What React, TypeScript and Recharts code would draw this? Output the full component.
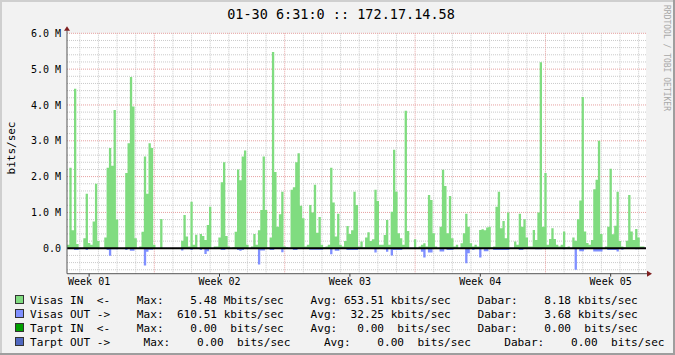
import React from 'react';
import { ComposedChart, Area, XAxis, YAxis, CartesianGrid, ReferenceLine, ReferenceDot } from 'recharts';

// ---- data (Mbits/sec), one sample every 3 hours from the left edge of the graph ----
const STEP_HOURS = 3;

const visasInA = [
  0.1, 2.25, 0.5, 4.45, 0.12, 0, 0, 0.28, 1.52, 0.15,
  0.1, 0.75, 1.8, 0.2, 0, 0, 0.3, 2.25, 2.8, 2.3,
  3.86, 0.8, 0, 0, 0, 2.1, 2.93, 4.78, 3.96, 0.28,
  0, 0.05, 0.46, 2.56, 1.52, 2.93, 2.8, 0.1, 0, 0,
  0.82, 0, 0, 0, 0, 0, 0, 0, 0, 0.21,
];
const visasInB = [
  0.93, 0.33, 0.05, 1.3, 0.1, 0.38, 0, 0.4, 0.34, 0.23,
  0.65, 1.16, 0, 0.05, 0.05, 0.3, 1.84, 2.4, 0.34, 0.05,
  0, 0.03, 0.46, 2.2, 1.9, 2.56, 2.73, 0.1, 0, 0.05,
  0.4, 0.1, 0.5, 1.07, 2.56, 1.07, 0.02, 0.3, 5.48, 2.13,
  0.6, 0.95, 1.58, 0.05, 0.03, 0, 1.63, 1.7, 2.4, 2.65,
];
const visasInC = [
  1.19, 0.84, 0.05, 0.1, 1.21, 1.0, 1.77, 0.43, 0.87, 0.1,
  0.03, 0.05, 0.1, 2.25, 1.28, 0.33, 0.96, 0.1, 0.05, 0.2,
  0.62, 0.4, 0.5, 1.58, 1.21, 0.05, 0.19, 0.02, 0.3, 0.45,
  0.2, 0.25, 1.63, 1.32, 0.1, 0.1, 0.37, 0.79, 0.1, 1.02,
  2.75, 1.58, 0.42, 0.28, 0.1, 3.84, 0.48, 0, 0, 0.25,
];
const visasInD = [
  0, 0.05, 0.1, 0.14, 0.05, 1.49, 1.35, 0.42, 0.05, 0,
  0.6, 2.19, 1.74, 0.42, 1.46, 0.28, 0.05, 0.1, 0, 0.14,
  0.42, 0.96, 0.6, 0.14, 0.05, 0.1, 0.05, 0.51, 0.53, 0.5,
  0.58, 0.6, 0.02, 0.05, 1.16, 1.58, 0.56, 0.76, 0.28, 1.0,
  0, 0, 0.19, 0.1, 0.96, 0.6, 0.81, 0.3, 0.05, 0.05,
];
const visasInE = [
  0.51, 0.23, 1.0, 5.19, 0.6, 2.1, 0.1, 0.26, 0.56, 0.26,
  0.1, 0.05, 0.1, 0.47, 0.03, 0.05, 0, 0.3, 0.21, 0.81,
  1.33, 4.22, 0.47, 0.15, 0.1, 0.23, 1.65, 1.91, 3.0, 0.4,
  0, 0.05, 0.6, 2.22, 0.39, 0.63, 1.58, 0.2, 0.05, 0.03,
  0.21, 1.49, 0.47, 0.23, 0.54, 0.3, 0.05, 0.05,
];

const visasOutA = [
  0, 0, 0, 0.05, 0.05, 0, 0, 0, 0.05, 0,
  0, 0, 0, 0, 0, 0, 0, 0.05, 0.21, 0.03,
  0.03, 0.03, 0, 0, 0, 0.05, 0, 0.07, 0.07, 0,
  0, 0, 0, 0.48, 0.1, 0.04, 0.04, 0, 0, 0,
  0, 0, 0, 0, 0, 0, 0, 0, 0, 0.06,
];
const visasOutB = [
  0, 0, 0, 0.05, 0, 0, 0, 0.05, 0, 0.16,
  0.08, 0, 0, 0, 0, 0, 0.05, 0.05, 0, 0,
  0, 0, 0, 0.05, 0.07, 0.05, 0, 0, 0, 0,
  0, 0, 0.45, 0.06, 0.06, 0, 0, 0.05, 0.05, 0,
  0, 0, 0.11, 0, 0, 0, 0, 0.05, 0.05, 0,
];
const visasOutC = [
  0, 0, 0, 0, 0.04, 0.04, 0.04, 0.04, 0.04, 0.04,
  0, 0, 0, 0.17, 0, 0.07, 0.07, 0, 0, 0,
  0.05, 0.05, 0.05, 0.05, 0.05, 0, 0, 0, 0, 0,
  0, 0, 0.12, 0, 0, 0, 0.03, 0.1, 0, 0.2,
  0.05, 0.05, 0.05, 0.05, 0, 0, 0, 0, 0, 0,
];
const visasOutD = [
  0, 0, 0.1, 0.26, 0, 0.12, 0.12, 0, 0, 0,
  0.09, 0.09, 0, 0.05, 0.05, 0.05, 0, 0, 0, 0,
  0, 0.42, 0.14, 0, 0.05, 0, 0, 0.26, 0, 0.08,
  0.08, 0, 0, 0.05, 0.05, 0.05, 0.05, 0.05, 0.05, 0.05,
  0, 0, 0, 0, 0.05, 0.05, 0, 0, 0, 0,
];
const visasOutE = [
  0, 0.03, 0.03, 0.03, 0, 0, 0, 0, 0, 0,
  0, 0, 0, 0.03, 0, 0, 0, 0, 0.6, 0,
  0.08, 0.08, 0.03, 0, 0, 0, 0.09, 0.09, 0.09, 0.09,
  0, 0, 0.05, 0.05, 0.05, 0.05, 0.09, 0, 0.04, 0,
  0, 0, 0, 0, 0.03, 0, 0, 0,
];

// ---- axes (hours from the left edge) ----
const X_MAX = 746;
const Y_MIN = -0.71;
const Y_MAX = 6.0;
const yTicks = [0, 1, 2, 3, 4, 5, 6];
const yMajorGrid = [1, 2, 3, 4, 5, 6];
const yMinorGrid = [
  -0.6, -0.4, -0.2, 0.2, 0.4, 0.6, 0.8, 1.2, 1.4, 1.6, 1.8, 2.2, 2.4, 2.6, 2.8,
  3.2, 3.4, 3.6, 3.8, 4.2, 4.4, 4.6, 4.8, 5.2, 5.4, 5.6, 5.8,
];
const weekGrid = [112.5, 280.5, 448.5, 616.5];
const dayGrid = [
  16.5, 40.5, 64.5, 88.5, 136.5, 160.5, 184.5, 208.5, 232.5, 256.5, 304.5, 328.5,
  352.5, 376.5, 400.5, 424.5, 472.5, 496.5, 520.5, 544.5, 568.5, 592.5, 640.5,
  664.5, 688.5, 712.5, 736.5,
];
const weekLabelHours = [28.5, 196.5, 364.5, 532.5, 700.5];
const weekLabels = ['Week 01', 'Week 02', 'Week 03', 'Week 04', 'Week 05'];

// ---- texts ----
const title = '01-30 6:31:0 :: 172.17.14.58';
const yTitle = 'bits/sec';
const credit = 'RRDTOOL / TOBI OETIKER';
const legendLines = [
  'Visas IN  <-    Max:    5.48 Mbits/sec    Avg: 653.51 kbits/sec    Dabar:    8.18 kbits/sec',
  'Visas OUT ->    Max:  610.51 kbits/sec    Avg:  32.25 kbits/sec    Dabar:    3.68 kbits/sec',
  'Tarpt IN  <-    Max:    0.00  bits/sec    Avg:   0.00  bits/sec    Dabar:    0.00  bits/sec',
  'Tarpt OUT ->     Max:    0.00  bits/sec     Avg:    0.00  bits/sec     Dabar:    0.00  bits/sec',
];
const legendColors = ['#80DC80', '#8090FF', '#00A000', '#5068C0'];

const IN_COLOR = '#80DC80';
const OUT_COLOR = '#8090FF';
const BG = '#F2F2F2';
const MONO = "'DejaVu Sans Mono', monospace";

const visasIn = [...visasInA, ...visasInB, ...visasInC, ...visasInD, ...visasInE];
const visasOut = [...visasOutA, ...visasOutB, ...visasOutC, ...visasOutD, ...visasOutE];
const table = visasIn.map((v, i) => ({ t: i * STEP_HOURS, vin: v, vout: -visasOut[i] }));
table.push({
  t: visasIn.length * STEP_HOURS,
  vin: visasIn[visasIn.length - 1],
  vout: -visasOut[visasOut.length - 1],
});

const W = 675;
const H = 355;

const upArrow = (p: any) => (
  <g>
    <line x1={p.cx} y1={p.cy} x2={p.cx} y2={p.cy - 3} stroke="#555" strokeWidth={1} />
    <path d={`M${p.cx - 3},${p.cy - 2.5} L${p.cx + 3},${p.cy - 2.5} L${p.cx},${p.cy - 7} Z`} fill="#7F1F1F" />
  </g>
);
const rightArrow = (p: any) => (
  <g>
    <line x1={p.cx} y1={p.cy} x2={p.cx + 2} y2={p.cy} stroke="#555" strokeWidth={1} />
    <path d={`M${p.cx + 1},${p.cy - 3} L${p.cx + 1},${p.cy + 3} L${p.cx + 6},${p.cy} Z`} fill="#7F1F1F" />
  </g>
);

export default function App() {
  return (
    <div style={{ position: 'absolute', left: 0, top: 0, width: W, height: H, background: BG, overflow: 'hidden' }}>
      <ComposedChart
        width={W}
        height={H}
        data={table}
        margin={{ top: 33.3, right: W - 646, bottom: H - 273.7 - 20, left: 7 }}
      >
        <CartesianGrid horizontal={false} vertical={false} fill="#FFFFFF" fillOpacity={1} />
        <CartesianGrid
          horizontalValues={yMinorGrid}
          verticalValues={dayGrid}
          stroke="#CACACA"
          strokeDasharray="1 1"
        />
        <CartesianGrid
          horizontalValues={yMajorGrid}
          verticalValues={weekGrid}
          stroke="#E6A0A0"
          strokeDasharray="1 1"
        />
        <XAxis
          type="number"
          dataKey="t"
          domain={[0, X_MAX]}
          allowDataOverflow
          ticks={weekLabelHours}
          interval={0}
          tickFormatter={(v: number) => weekLabels[weekLabelHours.indexOf(v)] ?? ''}
          height={20}
          tickSize={3}
          tickMargin={1.5}
          axisLine={{ stroke: '#555' }}
          tickLine={{ stroke: '#333' }}
          tick={{ fontSize: 10, fill: '#000', fontFamily: MONO }}
        />
        <YAxis
          type="number"
          domain={[Y_MIN, Y_MAX]}
          allowDataOverflow
          ticks={yTicks}
          interval={0}
          width={60}
          tickFormatter={(v: number) => (v === 0 ? '0.0' : `${v.toFixed(1)} M`)}
          tickSize={0}
          tickMargin={6}
          axisLine={{ stroke: '#555' }}
          tickLine={false}
          tick={{ fontSize: 10, fill: '#000', fontFamily: MONO }}
        />
        <Area
          type="stepAfter"
          dataKey="vin"
          stroke="none"
          fill={IN_COLOR}
          fillOpacity={1}
          baseValue={0}
          dot={false}
          activeDot={false}
          isAnimationActive={false}
        />
        <Area
          type="stepAfter"
          dataKey="vout"
          stroke="none"
          fill={OUT_COLOR}
          fillOpacity={1}
          baseValue={0}
          dot={false}
          activeDot={false}
          isAnimationActive={false}
        />
        <ReferenceLine y={0} stroke="#000" strokeWidth={2} ifOverflow="visible" />
        <ReferenceDot x={0} y={Y_MAX} r={0} ifOverflow="visible" shape={upArrow} />
        <ReferenceDot x={X_MAX} y={Y_MIN} r={0} ifOverflow="visible" shape={rightArrow} />
      </ComposedChart>
      <svg
        width={W}
        height={H}
        style={{ position: 'absolute', left: 0, top: 0, pointerEvents: 'none' }}
      >
        <line x1={0} y1={1} x2={W} y2={1} stroke="#CFCFCF" strokeWidth={2} />
        <line x1={1} y1={0} x2={1} y2={H} stroke="#CFCFCF" strokeWidth={2} />
        <line x1={0} y1={H - 1} x2={W} y2={H - 1} stroke="#9E9E9E" strokeWidth={2} />
        <line x1={W - 1} y1={0} x2={W - 1} y2={H} stroke="#9E9E9E" strokeWidth={2} />
        <text x={341} y={19.3} textAnchor="middle" fontFamily={MONO} fontSize={13.5} fill="#000">
          {title}
        </text>
        <text
          x={663.5}
          y={5}
          transform="rotate(90 663.5 5)"
          fontFamily={MONO}
          fontSize={8}
          fill="#A8A8A8"
        >
          {credit}
        </text>
        <text
          x={11}
          y={148}
          transform="rotate(-90 11 148)"
          textAnchor="middle"
          dominantBaseline="central"
          fontFamily={MONO}
          fontSize={11}
          fill="#000"
        >
          {yTitle}
        </text>
        {legendLines.map((line, i) => (
          <g key={i}>
            <rect x={15.5} y={295.5 + i * 14} width={8} height={8} fill={legendColors[i]} stroke="#333" strokeWidth={1} />
            <text
              x={30}
              y={303.5 + i * 14}
              xmlSpace="preserve"
              style={{ whiteSpace: 'pre' }}
              fontFamily={MONO}
              fontSize={11.1}
              fill="#000"
            >
              {line}
            </text>
          </g>
        ))}
      </svg>
    </div>
  );
}
